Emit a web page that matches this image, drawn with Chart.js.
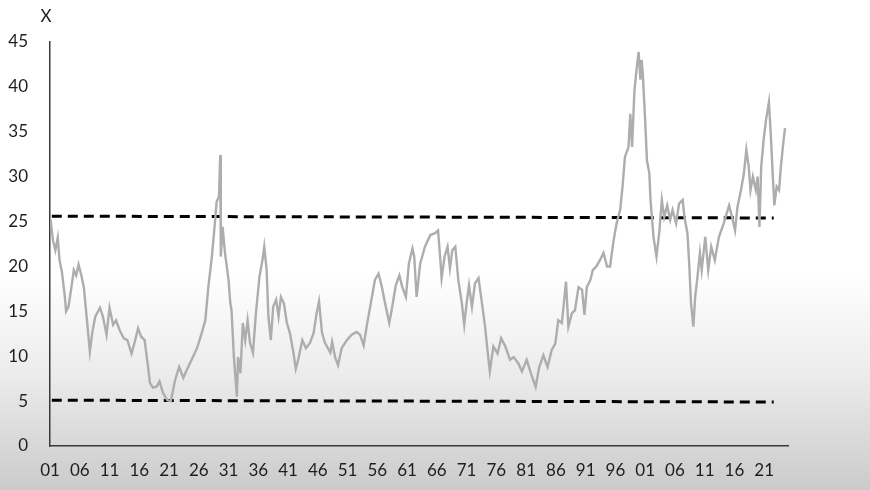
<!DOCTYPE html>
<html>
<head>
<meta charset="utf-8">
<script src="https://cdn.jsdelivr.net/npm/chart.js@4.4.1/dist/chart.umd.min.js"></script>
<style>
  html, body { margin: 0; padding: 0; width: 870px; height: 490px; overflow: hidden; }
  body { background: linear-gradient(to bottom, #ffffff 0%, #ffffff 56%, #ececec 76%, #d6d6d6 92%, #cbcbcb 100%); }
  .chart-wrap { position: relative; width: 870px; height: 490px; }
</style>
</head>
<body>
<div class="chart-wrap"><canvas id="chartCape"></canvas></div>
<script>
// CAPE ratio (year as decimal)
const years = [
  1901.1, 1901.5, 1901.9, 1902.3, 1902.6, 1903.0, 1903.5, 1903.7, 1904.1, 1904.6,
  1905.0, 1905.4, 1905.8, 1906.3, 1906.7, 1907.1, 1907.7, 1908.1, 1908.6, 1909.4,
  1909.9, 1910.5, 1911.0, 1911.6, 1912.1, 1912.7, 1913.4, 1914.0, 1914.7, 1915.2,
  1915.8, 1916.3, 1916.9, 1917.4, 1917.8, 1918.3, 1918.9, 1919.4, 1920.0, 1920.7,
  1921.3, 1922.0, 1922.7, 1923.4, 1924.0, 1924.8, 1925.7, 1926.5, 1927.1, 1927.6,
  1928.2, 1928.7, 1929.0, 1929.4, 1929.6, 1929.7, 1930.0, 1930.4, 1931.0, 1931.3,
  1931.5, 1931.9, 1932.4, 1932.6, 1933.0, 1933.4, 1933.8, 1934.2, 1934.6, 1935.1,
  1935.6, 1936.2, 1936.7, 1937.0, 1937.4, 1937.7, 1938.1, 1938.5, 1939.0, 1939.4,
  1939.8, 1940.3, 1940.8, 1941.3, 1941.9, 1942.3, 1942.7, 1943.4, 1944.0, 1944.7,
  1945.3, 1945.8, 1946.2, 1946.7, 1947.2, 1948.1, 1948.4, 1948.9, 1949.4, 1950.0,
  1950.9, 1951.7, 1952.5, 1953.1, 1953.7, 1954.2, 1954.9, 1955.6, 1956.2, 1956.7,
  1957.3, 1958.0, 1958.5, 1959.1, 1959.7, 1960.2, 1960.8, 1961.3, 1961.9, 1962.2,
  1962.6, 1963.2, 1964.0, 1964.9, 1965.7, 1966.2, 1966.5, 1966.8, 1967.3, 1967.8,
  1968.2, 1968.6, 1969.1, 1969.6, 1970.2, 1970.6, 1971.0, 1971.4, 1971.9, 1972.4,
  1973.0, 1973.5, 1974.1, 1974.5, 1974.9, 1975.5, 1976.2, 1976.8, 1977.5, 1978.3,
  1978.9, 1979.7, 1980.3, 1981.1, 1981.8, 1982.6, 1983.2, 1983.9, 1984.6, 1985.3,
  1985.9, 1986.4, 1987.0, 1987.4, 1987.7, 1988.1, 1988.7, 1989.2, 1989.8, 1990.4,
  1990.8, 1991.2, 1991.8, 1992.2, 1992.8, 1993.4, 1994.0, 1994.6, 1995.1, 1995.7,
  1996.2, 1996.8, 1997.2, 1997.6, 1998.2, 1998.5, 1998.8, 1999.2, 1999.6, 1999.9,
  2000.2, 2000.4, 2000.6, 2001.0, 2001.3, 2001.7, 2001.9, 2002.4, 2002.9, 2003.4,
  2003.8, 2004.2, 2004.7, 2005.2, 2005.6, 2006.2, 2006.7, 2007.3, 2007.6, 2008.1,
  2008.4, 2008.7, 2009.1, 2009.4, 2009.8, 2010.2, 2010.5, 2011.1, 2011.6, 2012.1,
  2012.7, 2013.4, 2014.2, 2015.1, 2015.6, 2016.1, 2016.5, 2017.1, 2017.6, 2018.0,
  2018.4, 2018.7, 2019.1, 2019.6, 2019.9, 2020.2, 2020.5, 2020.9, 2021.3, 2021.8,
  2022.1, 2022.4, 2022.7, 2023.1, 2023.5, 2023.8, 2024.2, 2024.5
];
const cape = [
  25.2, 22.9, 21.8, 23.2, 20.7, 19.4, 16.6, 15.0, 15.5, 17.7,
  19.6, 19.0, 20.2, 18.9, 17.6, 14.8, 10.5, 12.6, 14.4, 15.4,
  14.4, 12.4, 15.4, 13.5, 14.0, 12.9, 12.0, 11.8, 10.3, 11.5,
  13.1, 12.2, 11.8, 9.2, 7.0, 6.5, 6.6, 7.2, 5.9, 5.1,
  5.0, 7.3, 8.8, 7.6, 8.5, 9.6, 10.9, 12.6, 14.0, 17.7,
  21.1, 24.8, 27.2, 27.8, 32.4, 21.1, 24.4, 21.5, 18.5, 15.9,
  15.1, 9.9, 5.5, 9.9, 8.1, 13.7, 11.8, 14.0, 11.5, 10.4,
  14.8, 18.9, 20.7, 22.2, 19.6, 14.4, 11.8, 15.5, 16.3, 14.4,
  16.6, 15.9, 13.7, 12.6, 10.4, 8.6, 9.6, 11.8, 10.9, 11.5,
  12.6, 14.8, 16.1, 12.6, 11.5, 10.4, 11.6, 9.9, 9.0, 10.9,
  11.8, 12.4, 12.7, 12.4, 11.2, 13.3, 15.9, 18.5, 19.2, 17.9,
  15.9, 13.7, 15.5, 17.9, 19.0, 17.7, 16.6, 20.3, 22.0, 21.1,
  16.6, 20.3, 22.2, 23.5, 23.7, 24.0, 21.5, 18.7, 21.1, 22.2,
  19.8, 21.8, 22.2, 18.5, 15.9, 13.5, 15.9, 17.9, 15.5, 18.1,
  18.7, 16.3, 13.3, 10.7, 8.3, 11.1, 10.3, 12.0, 11.1, 9.6,
  9.9, 9.2, 8.3, 9.6, 8.1, 6.6, 8.8, 10.1, 8.8, 10.7,
  11.4, 14.0, 13.7, 16.3, 18.3, 13.3, 14.8, 15.1, 17.7, 17.4,
  14.6, 17.7, 18.5, 19.6, 20.0, 20.7, 21.5, 20.0, 20.0, 22.9,
  24.8, 26.3, 28.9, 32.2, 33.3, 37.0, 33.3, 39.6, 42.2, 43.9,
  40.8, 43.0, 41.5, 36.3, 31.8, 30.4, 27.4, 23.3, 21.1, 24.0,
  27.4, 25.5, 26.8, 25.2, 26.3, 24.8, 27.0, 27.4, 25.5, 23.7,
  20.3, 15.9, 13.3, 16.6, 18.9, 21.5, 19.6, 23.3, 19.6, 22.2,
  20.7, 23.3, 24.8, 26.8, 25.5, 24.0, 26.6, 28.5, 30.4, 33.0,
  31.1, 28.5, 30.0, 28.5, 30.0, 24.4, 31.1, 34.1, 36.3, 38.3,
  34.8, 30.7, 26.8, 28.9, 28.5, 31.1, 33.7, 35.4
];

// dashed reference lines (start / end)
const bandYears = [1901.3, 2022.6];
const upperBand = [25.6, 25.4];
const lowerBand = [5.1, 4.9];

const tickYears = [1901, 1906, 1911, 1916, 1921, 1926, 1931, 1936, 1941, 1946, 1951, 1956, 1961,
  1966, 1971, 1976, 1981, 1986, 1991, 1996, 2001, 2006, 2011, 2016, 2021];
const tickLabels = ["01", "06", "11", "16", "21", "26", "31", "36", "41", "46", "51", "56", "61",
  "66", "71", "76", "81", "86", "91", "96", "01", "06", "11", "16", "21"];

const axisFont = { size: 17, family: "Lato, 'Open Sans', sans-serif" };
const textColor = "#1e1e1e";

const yTitle = {
  id: "yTitle",
  afterDraw(chart) {
    const { ctx, chartArea } = chart;
    ctx.save();
    ctx.font = "17px Lato, 'Open Sans', sans-serif";
    ctx.fillStyle = textColor;
    ctx.textAlign = "center";
    ctx.textBaseline = "middle";
    ctx.fillText("X", chartArea.left - 4, 17);
    ctx.restore();
  }
};

const ctx = document.getElementById("chartCape").getContext("2d");
new Chart(ctx, {
  type: "line",
  data: {
    datasets: [
      {
        label: "CAPE",
        data: years.map((y, i) => ({ x: y, y: cape[i] })),
        borderColor: "#adadad",
        borderWidth: 2.4,
        pointRadius: 0,
        tension: 0
      },
      {
        label: "upper",
        data: bandYears.map((y, i) => ({ x: y, y: upperBand[i] })),
        borderColor: "#000000",
        borderWidth: 3,
        borderDash: [10, 6],
        pointRadius: 0
      },
      {
        label: "lower",
        data: bandYears.map((y, i) => ({ x: y, y: lowerBand[i] })),
        borderColor: "#000000",
        borderWidth: 3,
        borderDash: [10, 6],
        pointRadius: 0
      }
    ]
  },
  options: {
    responsive: true,
    maintainAspectRatio: false,
    animation: false,
    layout: { padding: { top: 42, right: 82, bottom: 0, left: 0 } },
    plugins: {
      legend: { display: false },
      tooltip: { enabled: false }
    },
    scales: {
      x: {
        type: "linear",
        min: 1901,
        max: 2025,
        grid: { display: false },
        border: { color: "#3a3a3a", width: 1.5 },
        afterBuildTicks: (scale) => { scale.ticks = tickYears.map(v => ({ value: v })); },
        afterFit: (scale) => { scale.height = 44; },
        ticks: {
          autoSkip: false,
          maxRotation: 0,
          padding: 6,
          color: textColor,
          font: axisFont,
          callback: (v) => tickLabels[tickYears.indexOf(v)]
        }
      },
      y: {
        min: 0,
        max: 45,
        grid: { display: false },
        border: { color: "#3a3a3a", width: 1.5 },
        afterFit: (scale) => { scale.width = 50; },
        ticks: {
          stepSize: 5,
          padding: 14,
          color: textColor,
          font: axisFont
        }
      }
    }
  },
  plugins: [yTitle]
});
</script>
</body>
</html>
